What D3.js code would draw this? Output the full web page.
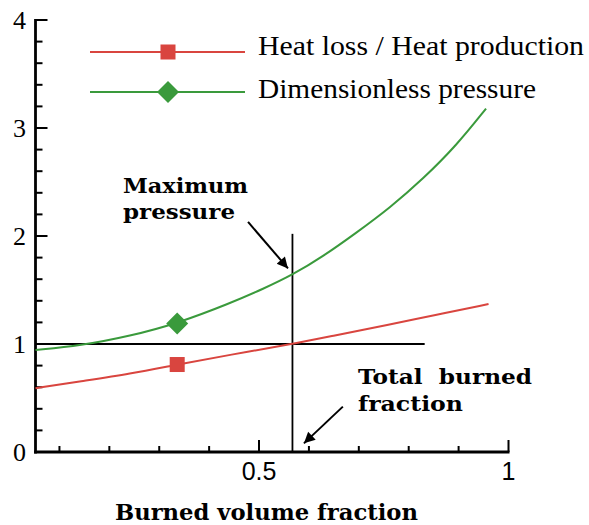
<!DOCTYPE html>
<html>
<head>
<meta charset="utf-8">
<script src="https://cdn.jsdelivr.net/npm/d3@7"></script>
<style>
  body { margin: 0; background: #fff; }
  svg { display: block; }
</style>
</head>
<body>
<div id="chart"></div>
<script>
// curve data
var burnedRed = [0.052, 0.142, 0.242, 0.336, 0.442, 0.567, 0.642, 0.762, 0.85, 0.96];
var heatRatio = [0.59, 0.655, 0.725, 0.81, 0.9, 1.0, 1.07, 1.18, 1.265, 1.37];

var burnedGreen = [0.052, 0.142, 0.242, 0.336, 0.442, 0.508, 0.567, 0.628, 0.695, 0.762, 0.829, 0.896, 0.955];
var pressure = [0.944, 0.984, 1.074, 1.19, 1.377, 1.51, 1.64, 1.81, 2.03, 2.26, 2.53, 2.84, 3.18];

var markerX = 0.336;
var yTicks = [0, 1, 2, 3, 4];
var xTicks = [0.5, 1];
var refX = 0.567, refTop = 2.02;   // total burned fraction line
var refY = 1, refRight = 0.832;    // ratio = 1 line

var W = 589, H = 525;
var svg = d3.select("#chart").append("svg").attr("width", W).attr("height", H);

var x = d3.scaleLinear().domain([0.052, 1]).range([35.5, 508.5]);
var y = d3.scaleLinear().domain([0, 4]).range([452, 20]);

var red = "#d9453f", green = "#3a9a3c";
var serif = "'Liberation Serif', 'Times New Roman', serif";
var bold = "'DejaVu Serif', serif";

// axes
var ax = svg.append("g").attr("stroke", "#000").attr("stroke-width", 2.8).attr("fill", "none");
ax.append("line").attr("x1", x(0.052)).attr("x2", x(0.052)).attr("y1", y(4) - 1).attr("y2", y(0) + 1.4);
ax.append("line").attr("x1", x(0.052) - 1.4).attr("x2", x(1) + 1).attr("y1", y(0)).attr("y2", y(0));

// y ticks (inward)
d3.range(0, 4.01, 0.2).forEach(function (v) {
  var major = Math.abs(v - Math.round(v)) < 1e-6;
  ax.append("line").attr("x1", x(0.052)).attr("x2", x(0.052) + (major ? 12 : 7))
    .attr("y1", y(v)).attr("y2", y(v)).attr("stroke-width", 2);
});
// x ticks (inward)
d3.range(0.1, 1.001, 0.1).forEach(function (v) {
  var major = Math.abs(v * 2 - Math.round(v * 2)) < 1e-6;
  ax.append("line").attr("x1", x(v)).attr("x2", x(v))
    .attr("y1", y(0)).attr("y2", y(0) - (major ? 12 : 6)).attr("stroke-width", 2);
});

svg.selectAll(".ylab").data(yTicks).join("text")
  .attr("x", 26).attr("y", d => y(d) + 9)
  .attr("text-anchor", "end")
  .style("font-family", serif).style("font-size", "26px")
  .text(d => d);

svg.selectAll(".xlab").data(xTicks).join("text")
  .attr("x", d => x(d)).attr("y", 480)
  .attr("text-anchor", "middle")
  .style("font-family", "'Liberation Sans', Arial, sans-serif").style("font-size", "25px")
  .text(d => d);

svg.append("text").attr("x", 115).attr("y", 520)
  .attr("textLength", 303).attr("lengthAdjust", "spacingAndGlyphs")
  .style("font-family", bold).style("font-weight", "bold").style("font-size", "22px")
  .text("Burned volume fraction");

// reference lines
svg.append("line").attr("x1", x(refX)).attr("x2", x(refX)).attr("y1", y(refTop)).attr("y2", y(0))
  .attr("stroke", "#000").attr("stroke-width", 1.8);
svg.append("line").attr("x1", x(0.052)).attr("x2", x(refRight)).attr("y1", y(refY)).attr("y2", y(refY))
  .attr("stroke", "#000").attr("stroke-width", 2);

// curves
var line = d3.line().x(d => x(d[0])).y(d => y(d[1])).curve(d3.curveBasis);
svg.append("path").datum(d3.zip(burnedRed, heatRatio)).attr("d", line)
  .attr("fill", "none").attr("stroke", red).attr("stroke-width", 2);
svg.append("path").datum(d3.zip(burnedGreen, pressure)).attr("d", line)
  .attr("fill", "none").attr("stroke", green).attr("stroke-width", 2);

var redAt = d3.scaleLinear().domain(burnedRed).range(heatRatio);
var greenAt = d3.scaleLinear().domain(burnedGreen).range(pressure);

function square(cx, cy) {
  svg.append("rect").attr("x", cx - 7.5).attr("y", cy - 7.5).attr("width", 15).attr("height", 15).attr("fill", red);
}
function diamond(cx, cy) {
  svg.append("path").attr("d", `M${cx},${cy - 11}L${cx + 11},${cy}L${cx},${cy + 11}L${cx - 11},${cy}Z`).attr("fill", green);
}
square(x(markerX), y(redAt(markerX)));
diamond(x(markerX), y(greenAt(markerX)));

// legend
var lg = [{ t: "Heat loss / Heat production", c: red, ly: 52, w: 326, m: square },
          { t: "Dimensionless pressure", c: green, ly: 92, w: 278, m: diamond }];
lg.forEach(function (d, i) {
  svg.append("line").attr("x1", 90).attr("x2", 245).attr("y1", d.ly).attr("y2", d.ly)
    .attr("stroke", d.c).attr("stroke-width", 2);
  d.m(168, d.ly);
  svg.append("text").attr("x", 258).attr("y", d.ly + (i ? 6 : 3))
    .attr("textLength", d.w).attr("lengthAdjust", "spacingAndGlyphs")
    .style("font-family", serif).style("font-size", "28px").text(d.t);
});

// annotations
svg.append("defs").append("marker").attr("id", "arr")
  .attr("viewBox", "0 0 10 10").attr("refX", 10).attr("refY", 5)
  .attr("markerWidth", 13).attr("markerHeight", 11).attr("markerUnits", "userSpaceOnUse")
  .attr("orient", "auto")
  .append("path").attr("d", "M0,0L10,5L0,10Z").attr("fill", "#000");

function arrow(a, b) {
  svg.append("line").attr("x1", x(a[0])).attr("y1", y(a[1])).attr("x2", x(b[0])).attr("y2", y(b[1]))
    .attr("stroke", "#000").attr("stroke-width", 2).attr("marker-end", "url(#arr)");
}
arrow([0.478, 2.13], [0.558, 1.70]);
arrow([0.668, 0.42], [0.590, 0.08]);

function note(tx, ty, w, s) {
  svg.append("text").attr("x", tx).attr("y", ty)
    .attr("textLength", w).attr("lengthAdjust", "spacingAndGlyphs")
    .style("font-family", bold).style("font-weight", "bold").style("font-size", "20px")
    .style("white-space", "pre").text(s);
}
note(123, 193, 125, "Maximum");
note(123, 219, 112, "pressure");
note(358, 384, 174, "Total  burned");
note(358, 411, 105, "fraction");
</script>
</body>
</html>
